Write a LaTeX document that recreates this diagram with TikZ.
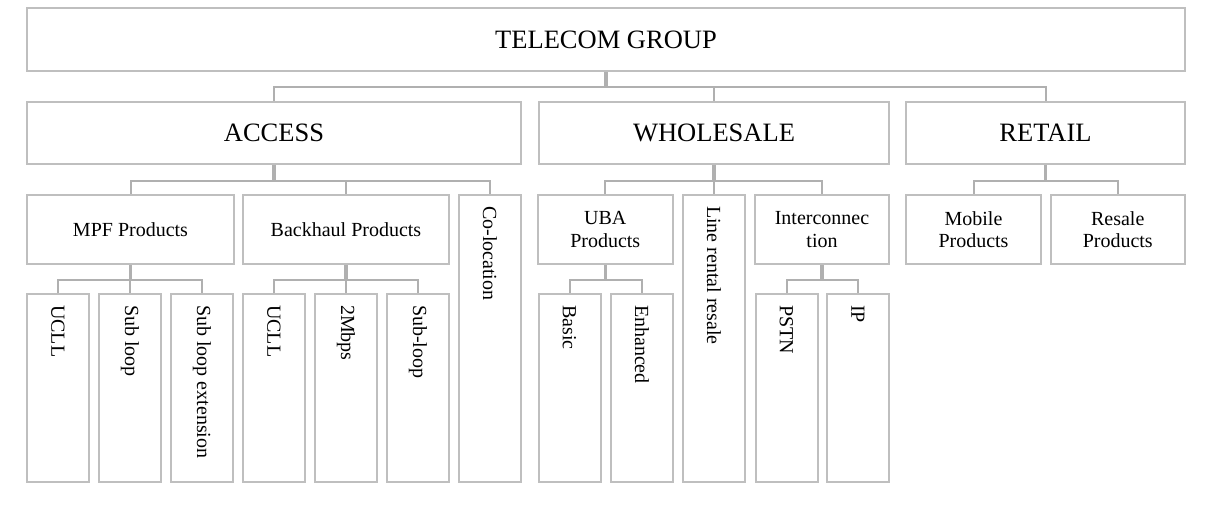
\documentclass[tikz,border=0pt]{standalone}
\usepackage{fontspec}
\setmainfont{Liberation Serif}
\definecolor{boxgray}{HTML}{BFBFBF}
\definecolor{linegray}{HTML}{B0B0B0}
% text set flush with the start of a rotated box
\newcommand{\starttext}[2][166pt]{\makebox[#1][l]{#2}}
\begin{document}
\begin{tikzpicture}[x=1pt,y=-1pt,
  box/.style={draw=boxgray, line width=2pt, inner sep=0pt, align=center,
              font=\fontsize{20}{22.5}\selectfont},
  headbox/.style={box, minimum height=62pt, font=\fontsize{26.5}{30}\selectfont},
  subbox/.style={box, minimum height=69pt},
  % leaf boxes are turned clockwise: their west side is the top edge
  leafbox/.style={box, rotate=-90, minimum height=62pt, minimum width=188pt},
  stem/.style={draw=linegray, line width=3.5pt},
  link/.style={draw=linegray, line width=2pt},
]
\useasboundingbox[fill=white] (0,0) rectangle (1208,516);

% bus levels
\coordinate (busA) at (0,87);
\coordinate (busB) at (0,181);
\coordinate (busC) at (0,280);

% top level
\node[headbox, minimum width=1158pt, minimum height=63pt] (top) at (606,40) {TELECOM GROUP};

% divisions
\node[headbox, minimum width=494pt] (access)    at (274,133)    {ACCESS};
\node[headbox, minimum width=350pt] (wholesale) at (714,133)    {WHOLESALE};
\node[headbox, minimum width=279pt] (retail)    at (1045.5,133) {RETAIL};

% product groups
\node[subbox, minimum width=207pt]   (mpf)      at (130.5,229.5)  {MPF Products};
\node[subbox, minimum width=206pt]   (backhaul) at (346,229.5)    {Backhaul Products};
\node[leafbox, minimum width=287pt] (coloc) at (490,338.5) {\starttext[265pt]{Co-location}};
\node[subbox, minimum width=134.5pt] (uba)      at (605.25,229.5) {UBA\\Products};
\node[leafbox, minimum width=287pt] (linerent) at (714,338.5) {\starttext[265pt]{Line rental resale}};
\node[subbox, minimum width=134pt]   (inter)    at (822,229.5)    {Interconnec\\tion};
\node[subbox, minimum width=135pt]   (mobile)   at (973.5,229.5)  {Mobile\\Products};
\node[subbox, minimum width=134.5pt] (resale)   at (1117.75,229.5){Resale\\Products};

% individual products
\node[leafbox] (mpfucll)  at (58,388)    {\starttext{UCLL}};
\node[leafbox] (subloop)  at (130,388)   {\starttext{Sub loop}};
\node[leafbox] (subext)   at (202,388)   {\starttext{Sub loop extension}};
\node[leafbox] (bhucll)   at (274,388)   {\starttext{UCLL}};
\node[leafbox] (twomb)    at (346,388)   {\starttext{2Mbps}};
\node[leafbox] (bhsub)    at (418,388)   {\starttext{Sub-loop}};
\node[leafbox] (basic)    at (569.5,388) {\starttext{Basic}};
\node[leafbox] (enhanced) at (642,388)   {\starttext{Enhanced}};
\node[leafbox] (pstn)     at (786.5,388) {\starttext{PSTN}};
\node[leafbox] (ip)       at (858,388)   {\starttext{IP}};

% group -> divisions
\draw[stem] (top.south) -- (top.south |- busA);
\draw[link] (access.north) -- (access.north |- busA) -- (retail.north |- busA) -- (retail.north);
\draw[link] (wholesale.north) -- (wholesale.north |- busA);

% access -> product groups
\draw[stem] (access.south) -- (access.south |- busB);
\draw[link] (mpf.north) -- (mpf.north |- busB) -- (coloc.west |- busB) -- (coloc.west);
\draw[link] (backhaul.north) -- (backhaul.north |- busB);

% wholesale -> product groups
\draw[stem] (wholesale.south) -- (wholesale.south |- busB);
\draw[link] (uba.north) -- (uba.north |- busB) -- (inter.north |- busB) -- (inter.north);
\draw[link] (linerent.west) -- (linerent.west |- busB);

% retail -> product groups
\draw[stem] (retail.south) -- (retail.south |- busB);
\draw[link] (mobile.north) -- (mobile.north |- busB) -- (resale.north |- busB) -- (resale.north);

% MPF products
\draw[stem] (mpf.south) -- (mpf.south |- busC);
\draw[link] (mpfucll.west) -- (mpfucll.west |- busC) -- (subext.west |- busC) -- (subext.west);
\draw[link] (subloop.west) -- (subloop.west |- busC);

% backhaul products
\draw[stem] (backhaul.south) -- (backhaul.south |- busC);
\draw[link] (bhucll.west) -- (bhucll.west |- busC) -- (bhsub.west |- busC) -- (bhsub.west);
\draw[link] (twomb.west) -- (twomb.west |- busC);

% UBA products
\draw[stem] (uba.south) -- (uba.south |- busC);
\draw[link] (basic.west) -- (basic.west |- busC) -- (enhanced.west |- busC) -- (enhanced.west);

% interconnection products
\draw[stem] (inter.south) -- (inter.south |- busC);
\draw[link] (pstn.west) -- (pstn.west |- busC) -- (ip.west |- busC) -- (ip.west);
\end{tikzpicture}
\end{document}
